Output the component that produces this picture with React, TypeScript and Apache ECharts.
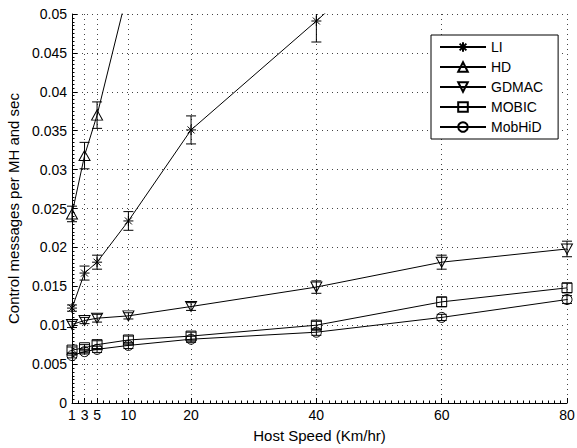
import React, { useEffect, useRef } from "react";
import * as echarts from "echarts";

// Host speed (km/h) at which every protocol was measured
const speeds = [1, 3, 5, 10, 20, 40, 60, 80];
const xTickValues = [1, 3, 5, 10, 20, 40, 60, 80];
const seriesNames = ["LI", "HD", "GDMAC", "MOBIC", "MobHiD"];

// Control messages per MH and sec (null = not measured at that speed)
const liValues = [0.0122, 0.0167, 0.0181, 0.0234, 0.0351, 0.0491, 0.0636, null];
const hdValues = [0.0243, 0.0318, 0.037, 0.0533, null, null, null, null];
const gdmacValues = [0.0101, 0.0106, 0.0109, 0.0112, 0.0124, 0.0149, 0.0181, 0.0198];
const mobicValues = [0.0068, 0.0071, 0.0075, 0.0081, 0.0086, 0.01, 0.013, 0.0148];
const mobhidValues = [0.0061, 0.0066, 0.0069, 0.0074, 0.0082, 0.0091, 0.011, 0.0133];

// Half-width of the confidence interval at each speed
const liErrors = [0.0004, 0.0009, 0.0009, 0.0012, 0.0018, 0.0027, null, null];
const hdErrors = [0.001, 0.0017, 0.0017, null, null, null, null, null];
const gdmacErrors = [0.0004, 0.0004, 0.0005, 0.0004, 0.0005, 0.0008, 0.0009, 0.001];
const mobicErrors = [0.0004, 0.0004, 0.0005, 0.0005, 0.0005, 0.0005, 0.0006, 0.0006];
const mobhidErrors = [0.0003, 0.0003, 0.0004, 0.0004, 0.0004, 0.0004, 0.0004, 0.0005];

const FONT = "'Liberation Sans', Arial, Helvetica, sans-serif";

const symbols: Record<string, string> = {
  LI: "path://M5,0 L5,10 M0,5 L10,5 M1.5,1.5 L8.5,8.5 M8.5,1.5 L1.5,8.5",
  HD: "path://M5,0 L10,9 L0,9 Z",
  GDMAC: "path://M0,0 L10,0 L5,9 Z",
  MOBIC: "rect",
  MobHiD: "circle",
};

const valuesByName: Record<string, (number | null)[]> = {
  LI: liValues,
  HD: hdValues,
  GDMAC: gdmacValues,
  MOBIC: mobicValues,
  MobHiD: mobhidValues,
};
const errorsByName: Record<string, (number | null)[]> = {
  LI: liErrors,
  HD: hdErrors,
  GDMAC: gdmacErrors,
  MOBIC: mobicErrors,
  MobHiD: mobhidErrors,
};

function lineSeries(name: string) {
  const vals = valuesByName[name];
  return {
    name,
    type: "line",
    xAxisIndex: 0,
    yAxisIndex: 0,
    data: speeds.map((s, i) => (vals[i] == null ? [s, null] : [s, vals[i]])),
    symbol: symbols[name],
    symbolSize: name === "HD" || name === "GDMAC" ? [11, 10] : 10,
    showAllSymbol: true,
    clip: true,
    lineStyle: { color: "#000", width: 1 },
    itemStyle: { color: "rgba(0,0,0,0)", borderColor: "#000", borderWidth: 1 },
    emphasis: { disabled: true },
    z: 3,
  };
}

function errorSeries(name: string) {
  const vals = valuesByName[name];
  const errs = errorsByName[name];
  const data: number[][] = [];
  speeds.forEach((s, i) => {
    const v = vals[i];
    const e = errs[i];
    if (v != null && e != null) data.push([s, v - e, v + e]);
  });
  return {
    name: name + " error",
    type: "custom",
    xAxisIndex: 0,
    yAxisIndex: 0,
    data,
    encode: { x: 0, y: [1, 2] },
    z: 2,
    renderItem: (params: any, api: any) => {
      const xv = api.value(0);
      const pLo = api.coord([xv, api.value(1)]);
      const pHi = api.coord([xv, api.value(2)]);
      const cs = params.coordSys;
      const top = Math.max(pHi[1], cs.y);
      const bottom = Math.min(pLo[1], cs.y + cs.height);
      const half = 5;
      const stroke = { stroke: "#000", lineWidth: 1 };
      const children: any[] = [
        { type: "line", shape: { x1: pLo[0], y1: top, x2: pLo[0], y2: bottom }, style: stroke },
      ];
      if (pHi[1] >= cs.y) {
        children.push({
          type: "line",
          shape: { x1: pHi[0] - half, y1: pHi[1], x2: pHi[0] + half, y2: pHi[1] },
          style: stroke,
        });
      }
      if (pLo[1] <= cs.y + cs.height) {
        children.push({
          type: "line",
          shape: { x1: pLo[0] - half, y1: pLo[1], x2: pLo[0] + half, y2: pLo[1] },
          style: stroke,
        });
      }
      return { type: "group", children };
    },
  };
}

export default function App() {
  const ref = useRef<HTMLDivElement>(null);

  useEffect(() => {
    if (!ref.current) return;
    const chart = echarts.init(ref.current, null, { renderer: "svg" });
    const gridLine = { show: true, lineStyle: { color: "#444", width: 1, type: [1, 4] } };

    chart.setOption({
      animation: false,
      backgroundColor: "#fff",
      grid: { left: 72, right: 10, top: 14, bottom: 45, containLabel: false, outerBoundsMode: "none" },
      legend: {
        data: seriesNames,
        orient: "vertical",
        left: 431,
        top: 35,
        padding: [5, 15, 5, 8],
        itemWidth: 46,
        itemHeight: 12,
        itemGap: 6,
        backgroundColor: "#fff",
        borderColor: "#000",
        borderWidth: 1,
        borderRadius: 0,
        selectedMode: false,
        textStyle: { fontFamily: FONT, fontSize: 14, color: "#000", lineHeight: 12 },
      },
      xAxis: [
        {
          type: "value",
          min: 1,
          max: 80,
          name: "Host Speed (Km/hr)",
          nameLocation: "middle",
          nameGap: 25,
          nameTextStyle: { fontFamily: FONT, fontSize: 15, color: "#000" },
          axisLine: { show: true, onZero: false, lineStyle: { color: "#000", width: 1 } },
          axisTick: { show: true, inside: true, length: 5, customValues: xTickValues, lineStyle: { color: "#000" } },
          axisLabel: { customValues: xTickValues, fontFamily: FONT, fontSize: 14, color: "#000", margin: 5 },
          splitLine: gridLine,
        },
        {
          type: "value",
          min: 1,
          max: 80,
          interval: 1,
          position: "bottom",
          axisLine: { show: false },
          axisTick: { show: true, inside: true, length: 2.5, lineStyle: { color: "#000" } },
          axisLabel: { show: false },
          splitLine: { show: false },
        },
      ],
      yAxis: {
        type: "value",
        min: 0,
        max: 0.05,
        interval: 0.005,
        name: "Control messages per MH and sec",
        nameLocation: "middle",
        nameGap: 51,
        nameTextStyle: { fontFamily: FONT, fontSize: 15, color: "#000" },
        axisLine: { show: true, lineStyle: { color: "#000", width: 1 } },
        axisTick: { show: true, inside: true, length: 5, lineStyle: { color: "#000" } },
        minorTick: { show: true, splitNumber: 10, length: 2.5, lineStyle: { color: "#000" } },
        axisLabel: {
          fontFamily: FONT,
          fontSize: 14,
          color: "#000",
          margin: 5,
          formatter: (v: number) => String(parseFloat(v.toFixed(3))),
        },
        splitLine: gridLine,
      },
      series: [
        ...seriesNames.map(errorSeries),
        ...seriesNames.map(lineSeries),
      ],
    });

    return () => chart.dispose();
  }, []);

  return (
    <div
      ref={ref}
      style={{ position: "fixed", left: 0, top: 0, width: 577, height: 448, background: "#fff" }}
    />
  );
}
